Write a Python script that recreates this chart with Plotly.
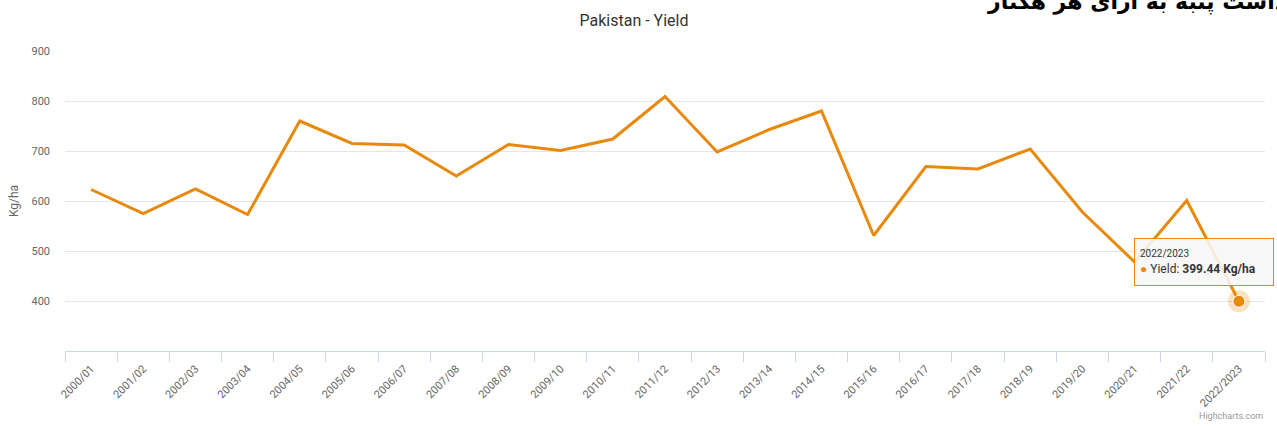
import plotly.graph_objects as go

seasons = ["2000/01", "2001/02", "2002/03", "2003/04", "2004/05", "2005/06", "2006/07",
           "2007/08", "2008/09", "2009/10", "2010/11", "2011/12", "2012/13", "2013/14",
           "2014/15", "2015/16", "2016/17", "2017/18", "2018/19", "2019/20", "2020/21",
           "2021/22", "2022/2023"]
yield_kg_ha = [623, 575, 624, 573, 760, 715, 712, 650, 713, 701, 724, 809, 698, 743,
               780, 531, 669, 664, 704, 578, 478, 601, 399.44]
y_ticks = [400, 500, 600, 700, 800, 900]

ORANGE = "#e8890c"
W, H = 1277, 426
# plot area in window pixels: x 65..1265, y 51..351
L, R, T, B = 65, 1277 - 1265, 51, 426 - 351
PW, PH = W - L - R, H - T - B


def px(x):
    return (x - L) / PW


def py(y):
    return (H - B - y) / PH


fig = go.Figure()
fig.add_trace(go.Scatter(
    x=seasons, y=yield_kg_ha, mode="lines", name="Yield",
    line=dict(color=ORANGE, width=3), hoverinfo="skip"))
# hovered point (halo + marker)
fig.add_trace(go.Scatter(
    x=[seasons[-1]], y=[yield_kg_ha[-1]], mode="markers",
    marker=dict(size=22, color="rgba(232,137,12,0.25)"), hoverinfo="skip"))
fig.add_trace(go.Scatter(
    x=[seasons[-1]], y=[yield_kg_ha[-1]], mode="markers",
    marker=dict(size=12, color=ORANGE, line=dict(color="white", width=1)), hoverinfo="skip"))

tip = (f"<span style='font-size:10px'>{seasons[-1]}</span><br>"
       f"<span style='color:{ORANGE}'>●</span> Yield: <b>{yield_kg_ha[-1]:.2f} Kg/ha</b>")

fig.update_layout(
    width=W, height=H,
    margin=dict(l=L, r=R, t=T, b=B, autoexpand=False),
    paper_bgcolor="white", plot_bgcolor="white",
    showlegend=False,
    font=dict(family="Roboto, 'Open Sans', sans-serif", color="#666666", size=11),
    title=dict(text="Pakistan - Yield", x=634 / W, xanchor="center",
               y=1 - 20 / H, yanchor="middle",
               font=dict(size=16, color="#333333")),
    xaxis=dict(
        type="category", range=[-0.5, len(seasons) - 0.5],
        showline=True, linecolor="#ccd6eb", linewidth=1,
        ticks="outside", ticklen=10, tickcolor="#ccd6eb", tickson="boundaries",
        tickangle=-45, tickfont=dict(size=11, color="#666666"),
        ticklabelstandoff=6,
        showgrid=False, zeroline=False, fixedrange=True),
    yaxis=dict(
        range=[300, 900], tickvals=y_ticks,
        showgrid=True, gridcolor="#e6e6e6", gridwidth=1,
        showline=False, zeroline=False, ticks="",
        ticklabelstandoff=14,
        tickfont=dict(size=11, color="#666666"),
        title=dict(text="Kg/ha", font=dict(size=12, color="#666666"), standoff=10),
        fixedrange=True),
    annotations=[
        dict(text=tip, xref="x", yref="y", x=seasons[-1], y=yield_kg_ha[-1],
             showarrow=False, xanchor="center", yanchor="bottom", xshift=-35, yshift=15,
             align="left", width=128, height=36, borderpad=5,
             bgcolor="rgba(247,247,247,0.88)", bordercolor=ORANGE, borderwidth=1,
             font=dict(size=12, color="#333333")),
        dict(text="Highcharts.com", xref="paper", yref="paper", x=px(1265), y=py(416),
             xanchor="right", yanchor="middle", showarrow=False,
             font=dict(size=9, color="#999999")),
        dict(text="<b>برداشت پنبه به ازای هر هکتار</b>", xref="paper", yref="paper",
             x=px(985), y=py(2), xanchor="left", yanchor="middle", showarrow=False,
             font=dict(family="DejaVu Sans", size=22, color="#000000")),
    ],
)

fig.write_html("out.html", config={"displayModeBar": False},
               post_script="document.body.style.margin='0px';")
